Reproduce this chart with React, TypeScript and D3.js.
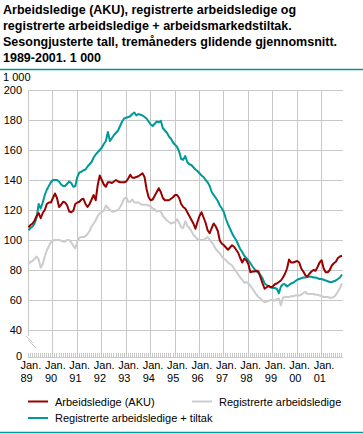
import React, { useRef, useEffect } from "react";
import * as d3 from "d3";

// Monthly values, Jan 1989 - Nov 2001, 1 000 persons
const aku = [
  108.5, 110, 111, 113, 116, 118, 114.5, 118, 120, 124, 125, 125,
  128, 131, 128, 122, 123.5, 125.5, 125, 123, 119, 118.5, 119.5, 124,
  125, 125.5, 127, 127.5, 124, 122, 124, 127, 130, 126.5, 136.5, 143,
  140, 137, 135.5, 138.5, 138.5, 138, 139, 140, 139, 138.5, 138.5, 138.5,
  139, 141, 143.5, 141.5, 141.5, 142, 142.5, 143.5, 144.5, 142, 134, 128.5,
  126.5, 127, 129.5, 132, 134.5, 132, 128, 126.5, 126.5, 126.5, 127.5, 128.5,
  130, 130, 128, 124, 122, 121, 118.5, 116, 113.5, 111, 107.5, 112,
  116, 118.5, 115, 111.5, 106.5, 104.5, 108, 111, 109, 106, 99.5, 97.5,
  96.5, 95, 93.5, 95, 96.5, 95.5, 93.5, 91.5, 88, 85, 87.5, 86.5,
  84, 78.5, 79, 79, 79.5, 79, 75, 71, 67.5, 68.5, 69.5, 68.5,
  69, 70.5, 71, 72, 73, 75, 77.5, 81, 87, 85, 85, 85.5,
  86, 85, 81, 79, 76.5, 75.5, 77.5, 79, 80, 79.5, 82, 85,
  86.5, 81, 78.5, 78.5, 80, 83, 84.5, 85.5, 88, 89, 89.5,
];

const registrerte = [
  84, 85.5, 86, 87.5, 89, 87, 81.5, 84, 89, 93, 96, 98.5,
  99.5, 100, 100, 100, 99.5, 99, 99, 100, 100, 98.5, 96, 94.5,
  99, 101.5, 102, 102, 102.5, 104, 106, 109, 111, 113, 116, 118,
  118.5, 119.5, 123, 121.5, 120, 119, 119, 119.5, 120, 122, 124.5, 127.5,
  128.5, 125.5, 125.5, 127, 125, 125, 125, 124, 123.5, 123.5, 123.5, 123,
  122.5, 121, 120.5, 119, 119.5, 119, 116, 114.5, 113, 112, 111, 111.5,
  112, 114, 111.5, 108.5, 108, 112.5, 109.5, 108, 106, 103.5, 102, 100.5,
  100, 100, 100, 101, 102, 100, 98.5, 96.5, 94, 92.5, 91, 89,
  87.5, 86.5, 85, 84, 83, 81, 79, 77, 75, 73.5, 71.5, 72,
  71, 69.5, 67.5, 65.5, 63.5, 62, 61, 59.5, 58.5, 59, 59.5, 60,
  60, 59.5, 60.5, 61, 56.5, 61.5, 62, 62, 62, 62.5, 62.5, 63,
  63, 63, 63.5, 64.5, 65.5, 64, 64, 64, 64, 63.5, 63.5, 63,
  62.5, 62, 62, 62, 61.5, 61.5, 62, 63.5, 65.5, 68, 71,
];

const tiltak = [
  106.5, 108, 109, 111, 115, 124, 121, 125, 130, 133.5, 136, 138.5,
  140, 140, 140, 139, 137, 136, 136, 137.5, 139, 138, 135.5, 136,
  142, 145, 145.5, 146.5, 147, 149, 150.5, 152, 155, 157, 158.5, 160,
  161.5, 164, 166, 172, 166, 168, 170, 171.5, 173, 176, 179, 181,
  181.5, 182, 182.5, 184, 185, 183, 184, 183.5, 183, 182, 181, 179,
  177, 176, 177.5, 179, 178.5, 179.5, 174.5, 173, 171.5, 169, 167.5, 165,
  163.5, 162, 159, 154, 153.5, 156, 152, 150.5, 150, 148.5, 147, 146,
  144.5, 143, 142, 140, 138.5, 136, 132, 130, 128, 126, 123, 121,
  118.5, 114, 110.5, 107.5, 104.5, 102, 100, 97, 94, 92, 89.5, 88,
  86.5, 84.5, 82.5, 80.5, 79, 78, 76.5, 74.5, 71, 70, 69, 68.5,
  68, 68, 67.5, 64.5, 69, 70.5, 70.5, 69, 70, 71, 71.5, 72.5,
  73.5, 74, 74.5, 75, 75, 75.5, 75.5, 75.5, 75, 75, 74.5, 74,
  74, 73.5, 73, 72.5, 72, 72, 72.5, 73, 74, 75, 77,
];

const years = ["89", "90", "91", "92", "93", "94", "95", "96", "97", "98", "99", "00", "01"];
const yTicks = [40, 60, 80, 100, 120, 140, 160, 180, 200];

const titleLines = [
  "Arbeidsledige (AKU), registrerte arbeidsledige og",
  "registrerte arbeidsledige + arbeidsmarkedstiltak.",
  "Sesongjusterte tall, tremåneders glidende gjennomsnitt.",
  "1989-2001. 1 000",
];

const RED = "#990000";
const TEAL = "#009999";
const LIGHT = "#cccccc";
const GRID = "#c8c8c8";
const FONT = "'Liberation Sans', Arial, sans-serif";

const App = () => {
  const ref = useRef<SVGSVGElement>(null);

  useEffect(() => {
    document.body.style.margin = "0";
    const svg = d3.select(ref.current);
    svg.selectAll("*").remove();

    const x = d3.scaleLinear().domain([0, 154.5]).range([28.5, 343]);
    const y = d3.scaleLinear().domain([40, 200]).range([330, 90]);
    const yZero = 356;

    // title
    svg
      .append("g")
      .selectAll("text")
      .data(titleLines)
      .enter()
      .append("text")
      .attr("x", 3)
      .attr("y", (d, i) => 13.5 + i * 16)
      .attr("font-family", FONT)
      .attr("font-size", 12.5)
      .attr("font-weight", "bold")
      .text((d) => d);

    svg.append("line").attr("x1", 0).attr("x2", 363).attr("y1", 69.5).attr("y2", 69.5)
      .attr("stroke", TEAL).attr("stroke-width", 1.5);
    svg.append("line").attr("x1", 0).attr("x2", 363).attr("y1", 432.5).attr("y2", 432.5)
      .attr("stroke", TEAL).attr("stroke-width", 1.5);

    svg.append("text").attr("x", 3).attr("y", 80.5).attr("font-family", FONT)
      .attr("font-size", 11).text("1 000");

    const grid = svg.append("g").attr("shape-rendering", "crispEdges");

    // horizontal grid
    grid.selectAll("line.h").data(yTicks).enter().append("line")
      .attr("x1", x(0)).attr("x2", x(154.5))
      .attr("y1", (d) => y(d) + 0.5).attr("y2", (d) => y(d) + 0.5)
      .attr("stroke", GRID);

    // vertical grid at each January
    const janMonths = years.map((d, i) => i * 12);
    grid.selectAll("line.v").data(janMonths.slice(1)).enter().append("line")
      .attr("x1", (d) => x(d)).attr("x2", (d) => x(d))
      .attr("y1", 90).attr("y2", 353)
      .attr("stroke", GRID);

    // left axis down to the break
    grid.append("line").attr("x1", x(0)).attr("x2", x(0)).attr("y1", 90).attr("y2", 336)
      .attr("stroke", GRID);

    // monthly tick comb
    grid.selectAll("line.m").data(d3.range(0, 155)).enter().append("line")
      .attr("x1", (d) => x(d)).attr("x2", (d) => x(d))
      .attr("y1", 353).attr("y2", 358)
      .attr("stroke", GRID);
    grid.append("line").attr("x1", x(0)).attr("x2", x(154.5)).attr("y1", 357.5).attr("y2", 357.5)
      .attr("stroke", GRID);

    // axis break
    svg.append("line").attr("x1", 26).attr("y1", 336).attr("x2", 33).attr("y2", 343)
      .attr("stroke", GRID);
    svg.append("line").attr("x1", 28).attr("y1", 340).attr("x2", 36).attr("y2", 348)
      .attr("stroke", GRID);

    // y labels
    svg.append("g").selectAll("text").data(yTicks).enter().append("text")
      .attr("x", 22).attr("y", (d) => y(d) + 4)
      .attr("text-anchor", "end").attr("font-family", FONT).attr("font-size", 11)
      .text((d) => d);
    svg.append("text").attr("x", 22).attr("y", yZero + 4)
      .attr("text-anchor", "end").attr("font-family", FONT).attr("font-size", 11).text("0");

    // x labels
    const xl = svg.append("g").attr("font-family", FONT).attr("font-size", 11);
    xl.selectAll("text.jan").data(years).enter().append("text")
      .attr("x", (d, i) => x(i * 12) - 8).attr("y", 369).text("Jan.");
    xl.selectAll("text.yr").data(years).enter().append("text")
      .attr("x", (d, i) => x(i * 12) - 8).attr("y", 382).text((d) => d);

    // series
    const line = d3.line<number>().x((d, i) => x(i)).y((d) => y(d));
    const series = [
      { values: registrerte, color: LIGHT },
      { values: tiltak, color: TEAL },
      { values: aku, color: RED },
    ];
    svg.append("g").selectAll("path").data(series).enter().append("path")
      .attr("d", (d) => line(d.values))
      .attr("fill", "none")
      .attr("stroke", (d) => d.color)
      .attr("stroke-width", 2)
      .attr("stroke-linejoin", "round");

    // legend
    const legend = [
      { label: "Arbeidsledige (AKU)", color: RED, lx: 28, ly: 401.5 },
      { label: "Registrerte arbeidsledige", color: LIGHT, lx: 192, ly: 401.5 },
      { label: "Registrerte arbeidsledige + tiltak", color: TEAL, lx: 28, ly: 418 },
    ];
    const lg = svg.append("g").selectAll("g").data(legend).enter().append("g");
    lg.append("line")
      .attr("x1", (d) => d.lx).attr("x2", (d) => d.lx + 20)
      .attr("y1", (d) => d.ly).attr("y2", (d) => d.ly)
      .attr("stroke", (d) => d.color).attr("stroke-width", 2);
    lg.append("text")
      .attr("x", (d) => d.lx + 27).attr("y", (d) => d.ly + 4)
      .attr("font-family", FONT).attr("font-size", 11)
      .text((d) => d.label);

    return () => {
      svg.selectAll("*").remove();
    };
  }, []);

  return <svg ref={ref} width={363} height={434} style={{ display: "block" }} />;
};

export default App;
